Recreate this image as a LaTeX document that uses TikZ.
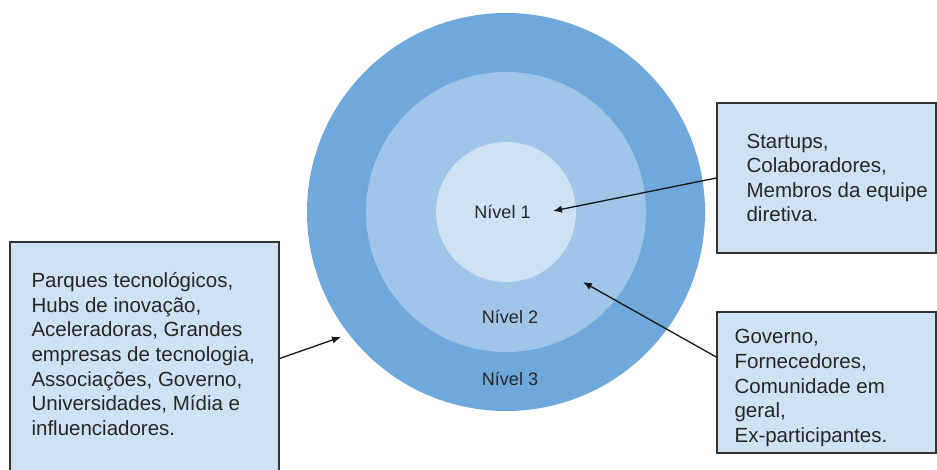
\documentclass[tikz,border=0pt]{standalone}
\usepackage{fontspec}
\setmainfont{Liberation Sans}
\usetikzlibrary{positioning,arrows.meta}
\definecolor{ringout}{HTML}{6FA8DC}
\definecolor{ringmid}{HTML}{9FC5E8}
\definecolor{ringin}{HTML}{CFE2F3}

\begin{document}
\begin{tikzpicture}[
    x=0.3mm, y=-0.3mm, >={Latex[length=2.7mm,width=2.2mm]},
    ring/.style={circle, inner sep=0pt},
    box/.style={draw=black!80, line width=0.4mm, fill=ringin, inner sep=0pt},
    txt/.style={font=\fontsize{17.5}{21}\selectfont, text=black!85,
                align=left, inner sep=0pt},
    lvl/.style={font=\fontsize{15.4}{18}\selectfont, text=black!85},
    link/.style={->, line width=0.4mm, black!90}]
  \useasboundingbox (0,0) rectangle (937,470);
  % rings, outer to inner
  \node[ring, fill=ringout, minimum size=119.4mm] (r3) at (506,212) {};
  \node[ring, fill=ringmid, minimum size=84mm]    (r2) at (506,212) {};
  \node[ring, fill=ringin,  minimum size=42mm]    (r1) at (506,212) {};
  \node[lvl] (l1) at (502.5,212) {Nível 1};
  \node[lvl] (l2) at (510,317) {Nível 2};
  \node[lvl] (l3) at (510,379) {Nível 3};
  % boxes
  \node[box, minimum width=65.7mm, minimum height=45mm]   (tr) at (826.5,178) {};
  \node[box, minimum width=65.7mm, minimum height=42.3mm] (br) at (826.5,382.5) {};
  \node[box, minimum width=80.7mm, minimum height=69.9mm] (lb) at (144.5,358.5) {};
  \node[txt, right=9mm of tr.west] (trt) {Startups,\\Colaboradores,\\Membros da equipe\\diretiva.};
  \node[txt, right=5.4mm of br.west, yshift=-1.65mm] (brt)
    {Governo,\\Fornecedores,\\Comunidade em\\geral,\\Ex-participantes.};
  \node[txt, right=6.6mm of lb.west, yshift=1.35mm] (lbt)
    {Parques tecnológicos,\\Hubs de inovação,\\Aceleradoras, Grandes\\empresas de tecnologia,\\Associações, Governo,\\Universidades, Mídia e\\influenciadores.};
  % arrows
  \coordinate (p1) at (553,211);
  \coordinate (p2) at (583,282);
  \coordinate (p3) at (341,337);
  \draw[link] (tr.west) -- (p1);
  \draw[link] (br.167) -- (p2);
  \draw[link] (lb.east) -- (p3);
\end{tikzpicture}
\end{document}
